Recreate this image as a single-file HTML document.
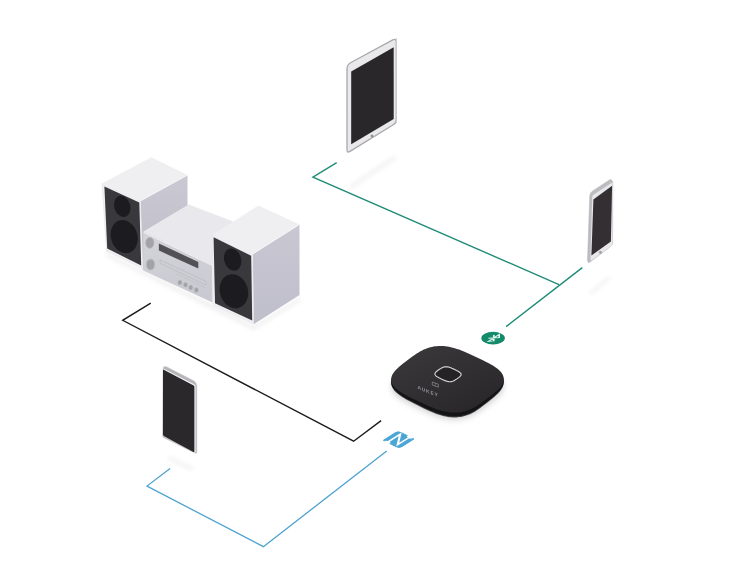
<!DOCTYPE html>
<html><head><meta charset="utf-8"><style>
html,body{margin:0;padding:0;background:#fff;width:730px;height:572px;overflow:hidden}
svg{display:block}
</style></head><body>
<svg width="730" height="572" viewBox="0 0 730 572">
<defs>
<filter id="blur3" x="-50%" y="-50%" width="200%" height="200%"><feGaussianBlur stdDeviation="3"/></filter>
<filter id="blur2" x="-50%" y="-50%" width="200%" height="200%"><feGaussianBlur stdDeviation="2"/></filter>
<filter id="blur1" x="-50%" y="-50%" width="200%" height="200%"><feGaussianBlur stdDeviation="0.8"/></filter>
<linearGradient id="hubtop" x1="0" y1="0.2" x2="0.6" y2="1"><stop offset="0" stop-color="#3a373b"/><stop offset="1" stop-color="#2a282b"/></linearGradient>
<linearGradient id="unitfront" x1="0" y1="0" x2="0" y2="1"><stop offset="0" stop-color="#d4d4db"/><stop offset="1" stop-color="#c8c8d0"/></linearGradient>
<linearGradient id="sideg" x1="0" y1="0" x2="0" y2="1"><stop offset="0" stop-color="#cac9d3"/><stop offset="1" stop-color="#bdbcc8"/></linearGradient>
<linearGradient id="sideg2" x1="0" y1="0" x2="0" y2="1"><stop offset="0" stop-color="#c8c7d2"/><stop offset="1" stop-color="#bfbecb"/></linearGradient>
</defs>
<path d="M352 186 L394 158" stroke="#f4f4f4" stroke-width="5" stroke-linecap="round" filter="url(#blur2)"/>
<path d="M591 293 L609 278" stroke="#f2f2f2" stroke-width="3.5" stroke-linecap="round" filter="url(#blur2)"/>
<path d="M170 458.5 L191 468.5" stroke="#f2f2f2" stroke-width="4" stroke-linecap="round" filter="url(#blur2)"/>
<polygon points="476.5,366.2 482.9,369.3 486.2,370.9 488.8,372.3 491.0,373.5 492.9,374.6 494.6,375.7 496.1,376.8 497.5,377.8 498.7,378.8 499.7,379.8 500.7,380.8 501.5,381.8 502.1,382.8 502.7,383.8 503.1,384.8 503.4,385.8 503.7,386.8 503.8,387.8 503.7,388.8 503.6,389.8 503.3,390.8 503.0,391.9 502.5,393.0 501.8,394.1 501.1,395.2 500.2,396.4 499.1,397.6 497.8,398.9 496.3,400.3 494.5,401.8 492.1,403.7 487.5,407.2 482.8,410.8 480.3,412.6 478.2,414.0 476.3,415.2 474.5,416.2 472.8,417.1 471.1,417.9 469.4,418.6 467.8,419.3 466.2,419.8 464.5,420.3 462.9,420.7 461.3,421.0 459.7,421.2 458.0,421.4 456.3,421.5 454.7,421.5 453.0,421.5 451.2,421.4 449.5,421.3 447.7,421.0 445.9,420.7 444.0,420.3 442.1,419.9 440.1,419.3 438.0,418.7 435.8,417.9 433.5,417.1 431.0,416.1 428.2,414.9 424.8,413.3 418.4,410.3 412.0,407.3 408.7,405.7 406.1,404.3 403.9,403.1 402.0,401.9 400.3,400.8 398.7,399.8 397.4,398.7 396.2,397.7 395.2,396.7 394.2,395.7 393.4,394.7 392.8,393.7 392.2,392.8 391.8,391.8 391.4,390.8 391.2,389.8 391.1,388.8 391.2,387.8 391.3,386.7 391.6,385.7 391.9,384.7 392.4,383.6 393.1,382.5 393.8,381.4 394.7,380.2 395.8,379.0 397.1,377.7 398.6,376.3 400.4,374.7 402.8,372.8 407.4,369.3 412.0,365.8 414.6,364.0 416.7,362.6 418.6,361.4 420.4,360.3 422.1,359.4 423.8,358.6 425.5,357.9 427.1,357.3 428.7,356.7 430.3,356.3 432.0,355.9 433.6,355.6 435.2,355.3 436.9,355.2 438.5,355.0 440.2,355.0 441.9,355.0 443.7,355.1 445.4,355.3 447.2,355.5 449.0,355.8 450.9,356.2 452.8,356.7 454.8,357.2 456.9,357.9 459.1,358.6 461.4,359.5 463.9,360.5 466.7,361.7 470.1,363.2" fill="#eeeeee" filter="url(#blur3)"/>
<polygon points="476.5,363.7 482.9,366.8 486.2,368.4 488.8,369.8 491.0,371.0 492.9,372.1 494.6,373.2 496.1,374.3 497.5,375.3 498.7,376.3 499.7,377.3 500.7,378.3 501.5,379.3 502.1,380.3 502.7,381.3 503.1,382.3 503.4,383.3 503.7,384.3 503.8,385.3 503.7,386.3 503.6,387.3 503.3,388.3 503.0,389.4 502.5,390.5 501.8,391.6 501.1,392.7 500.2,393.9 499.1,395.1 497.8,396.4 496.3,397.8 494.5,399.3 492.1,401.2 487.5,404.7 482.8,408.3 480.3,410.1 478.2,411.5 476.3,412.7 474.5,413.7 472.8,414.6 471.1,415.4 469.4,416.1 467.8,416.8 466.2,417.3 464.5,417.8 462.9,418.2 461.3,418.5 459.7,418.7 458.0,418.9 456.3,419.0 454.7,419.0 453.0,419.0 451.2,418.9 449.5,418.8 447.7,418.5 445.9,418.2 444.0,417.8 442.1,417.4 440.1,416.8 438.0,416.2 435.8,415.4 433.5,414.6 431.0,413.6 428.2,412.4 424.8,410.8 418.4,407.8 412.0,404.8 408.7,403.2 406.1,401.8 403.9,400.6 402.0,399.4 400.3,398.3 398.7,397.3 397.4,396.2 396.2,395.2 395.2,394.2 394.2,393.2 393.4,392.2 392.8,391.2 392.2,390.3 391.8,389.3 391.4,388.3 391.2,387.3 391.1,386.3 391.2,385.3 391.3,384.2 391.6,383.2 391.9,382.2 392.4,381.1 393.1,380.0 393.8,378.9 394.7,377.7 395.8,376.5 397.1,375.2 398.6,373.8 400.4,372.2 402.8,370.3 407.4,366.8 412.0,363.3 414.6,361.5 416.7,360.1 418.6,358.9 420.4,357.8 422.1,356.9 423.8,356.1 425.5,355.4 427.1,354.8 428.7,354.2 430.3,353.8 432.0,353.4 433.6,353.1 435.2,352.8 436.9,352.7 438.5,352.5 440.2,352.5 441.9,352.5 443.7,352.6 445.4,352.8 447.2,353.0 449.0,353.3 450.9,353.7 452.8,354.2 454.8,354.7 456.9,355.4 459.1,356.1 461.4,357.0 463.9,358.0 466.7,359.2 470.1,360.7" fill="#dadada" filter="url(#blur2)"/>
<polygon points="106,252 142,270 212,304 254,326 300,297 300,301 254,330 142,274 106,256" fill="#efefef" filter="url(#blur2)"/>
<polyline points="336.7,162.6 312.9,177.2 559,284.6" fill="none" stroke="#1f8c77" stroke-width="1.4"/>
<line x1="582.3" y1="267.6" x2="506.1" y2="326.6" stroke="#1f8c77" stroke-width="1.4"/>
<polyline points="150.75,303.1 122.7,320.3 353.6,441.2 381.1,420.6" fill="none" stroke="#1c1c1c" stroke-width="1.4"/>
<polyline points="170.1,468.6 147,486.1 263.4,546.7 386.7,450.9" fill="none" stroke="#4ea2d0" stroke-width="1.3"/>
<path d="M347.00,69.10 Q347.00,64.60 350.96,62.46 L392.34,40.14 Q396.30,38.00 396.30,42.50 L396.30,119.40 Q396.30,122.90 393.32,124.73 L349.98,151.37 Q347.00,153.20 347.00,149.70 Z" fill="#e9e9ec" stroke="#a9a9ad" stroke-width="1.3"/>
<path d="M396.30,38.00 Q396.30,38.00 396.30,38.00 L396.30,122.90 Q396.30,122.90 396.30,122.90 Z" fill="none" stroke="#cdcdd1" stroke-width="0.9"/>
<polygon points="351.2,71.6 393.7,47.3 393.7,119.0 351.2,144.3" fill="#2a272b"/>
<circle cx="372" cy="136" r="1.25" fill="#8c8c90" stroke="#a0a0a4" stroke-width="0.4"/>
<path d="M589.79,195.80 Q589.90,192.80 592.40,191.15 L609.46,179.88 Q610.80,179.00 611.80,180.25 L611.86,180.33 Q612.80,181.50 612.80,183.00 L612.61,243.00 Q612.60,245.00 611.00,246.20 L589.51,262.32 Q588.60,263.00 588.05,262.00 L588.05,262.00 Q587.50,261.00 587.54,259.86 Z" fill="#bcbcc1" stroke="#b0b0b5" stroke-width="0.5"/>
<path d="M592.16,197.10 Q592.20,195.60 593.45,194.78 L611.76,182.75 Q612.60,182.20 612.60,183.20 L612.50,243.00 Q612.50,245.00 610.89,246.18 L592.01,260.02 Q590.40,261.20 590.45,259.20 Z" fill="#e8e8eb"/>
<polygon points="593.4,199.4 612.1,185.7 610.9,241.6 591.4,255.6" fill="#332f33"/>
<circle cx="600.4" cy="252.4" r="1.3" fill="#9a9a9e" stroke="#b0b0b4" stroke-width="0.4"/>
<path d="M162.98,369.50 Q163.00,365.00 167.00,367.06 L193.24,380.57 Q196.80,382.40 196.80,386.40 L196.80,452.00 Q196.80,454.00 195.00,453.12 L163.95,437.86 Q162.60,437.20 162.61,435.70 Z" fill="#b4b4b9" stroke="#c4c4c8" stroke-width="0.5"/>
<path d="M163.00,369.70 Q163.00,368.20 164.33,368.89 L194.27,384.31 Q195.60,385.00 195.60,386.50 L195.60,451.50 Q195.60,453.00 194.26,452.32 L164.34,437.08 Q163.00,436.40 163.00,434.90 Z" fill="#f0f0f2"/>
<path d="M163.00,370.10 Q163.00,369.30 163.71,369.67 L193.69,385.53 Q194.40,385.90 194.40,386.70 L194.40,451.30 Q194.40,452.50 193.34,451.93 L164.06,436.17 Q163.00,435.60 163.00,434.40 Z" fill="#2b282c"/>
<polygon points="140.6,200.8 187.5,175.1 187.5,206.0 142.6,270.0" fill="url(#sideg)"/>
<polygon points="101.8,183.6 151.4,157.3 187.5,175.1 140.6,200.8" fill="#efeff1"/>
<polyline points="101.8,183.6 140.6,200.8 187.5,175.1" fill="none" stroke="#fafafb" stroke-width="0.8"/>
<polygon points="101.8,183.6 140.6,200.8 143.0,268.8 106.3,251.2" fill="#efeff1" stroke="#dcdce0" stroke-width="0.3"/>
<polygon points="104.4,186.4 139.3,202.6 141.2,265.4 107.2,248.6" fill="#39383c"/>
<ellipse cx="122.3" cy="206.4" rx="8" ry="10.8" transform="rotate(-17 122.3 206.4)" fill="#1c1b1f"/>
<ellipse cx="124.2" cy="236.6" rx="13.2" ry="16.8" transform="rotate(-17 124.2 236.6)" fill="#1c1b1f"/>
<polygon points="143.5,231.5 188.6,204.4 232.7,221.2 212.2,264.8" fill="#e9e9ed"/>
<polygon points="143.2,231.5 212.2,264.8 212.6,302.6 143.2,270.5" fill="url(#unitfront)"/>
<polyline points="143.5,232.2 212.2,265.5" fill="none" stroke="#f2f2f4" stroke-width="1"/>
<ellipse cx="149.8" cy="242.8" rx="4.3" ry="5.6" fill="#a2a2a8" stroke="#c0c0c5" stroke-width="0.8"/>
<ellipse cx="150.5" cy="264.5" rx="4.3" ry="5.6" fill="#a2a2a8" stroke="#c0c0c5" stroke-width="0.8"/>
<polygon points="158.9,243.4 198.3,262.0 198.3,268.6 158.9,250.6" fill="#525256"/>
<polygon points="160.0,259.8 206.0,281.4 206.0,285.0 160.0,263.4" fill="#cdcdd4" stroke="#b0b0b7" stroke-width="0.5"/>
<line x1="176" y1="273.6" x2="205" y2="287.6" stroke="#bcbcc2" stroke-width="0.6"/>
<ellipse cx="179.9" cy="282.4" rx="2.2" ry="2.5" fill="#a2a2a8" stroke="#c2c2c7" stroke-width="0.5"/>
<ellipse cx="185.5" cy="284.8" rx="2.2" ry="2.5" fill="#a2a2a8" stroke="#c2c2c7" stroke-width="0.5"/>
<ellipse cx="190.8" cy="287.4" rx="2.2" ry="2.5" fill="#a2a2a8" stroke="#c2c2c7" stroke-width="0.5"/>
<ellipse cx="196.4" cy="290.1" rx="2.2" ry="2.5" fill="#a2a2a8" stroke="#c2c2c7" stroke-width="0.5"/>
<polygon points="252.8,253.9 299.5,224.4 299.5,295.0 253.6,324.2" fill="url(#sideg2)"/>
<polygon points="212.4,235.0 258.4,205.4 299.5,224.4 252.8,253.9" fill="#efeff1"/>
<polyline points="212.4,235.0 252.8,253.9 299.5,224.4" fill="none" stroke="#fafafb" stroke-width="0.8"/>
<polygon points="212.4,235.0 252.8,253.9 253.6,324.2 213.4,305.4" fill="#efeff1" stroke="#dcdce0" stroke-width="0.3"/>
<polygon points="213.6,237.2 251.2,255.8 252.2,320.6 215.0,303.2" fill="#39383c"/>
<ellipse cx="232.6" cy="259.6" rx="8.4" ry="11.4" transform="rotate(-17 232.6 259.6)" fill="#1c1b1f"/>
<ellipse cx="233.9" cy="291.2" rx="14" ry="17.2" transform="rotate(-17 233.9 291.2)" fill="#1c1b1f"/>
<polygon points="476.5,360.4 482.9,363.5 486.2,365.1 488.8,366.5 491.0,367.7 492.9,368.8 494.6,369.9 496.1,371.0 497.5,372.0 498.7,373.0 499.7,374.0 500.7,375.0 501.5,376.0 502.1,377.0 502.7,378.0 503.1,379.0 503.4,380.0 503.7,381.0 503.8,382.0 503.7,383.1 503.6,384.1 503.3,385.2 503.0,386.3 502.5,387.5 501.8,388.6 501.1,389.8 500.2,391.0 499.1,392.3 497.8,393.7 496.3,395.1 494.5,396.8 492.1,398.7 487.5,402.5 482.8,406.1 480.3,408.0 478.2,409.5 476.3,410.8 474.5,411.9 472.8,412.8 471.1,413.7 469.4,414.4 467.8,415.1 466.2,415.6 464.5,416.1 462.9,416.5 461.3,416.9 459.7,417.1 458.0,417.3 456.3,417.4 454.7,417.5 453.0,417.4 451.2,417.3 449.5,417.2 447.7,416.9 445.9,416.6 444.0,416.2 442.1,415.7 440.1,415.1 438.0,414.5 435.8,413.7 433.5,412.8 431.0,411.7 428.2,410.5 424.8,408.9 418.4,405.7 412.0,402.5 408.7,400.8 406.1,399.4 403.9,398.1 402.0,396.9 400.3,395.7 398.7,394.6 397.4,393.5 396.2,392.4 395.2,391.4 394.2,390.4 393.4,389.3 392.8,388.3 392.2,387.2 391.8,386.2 391.4,385.2 391.2,384.1 391.1,383.1 391.2,382.0 391.3,380.9 391.6,379.9 391.9,378.9 392.4,377.8 393.1,376.7 393.8,375.6 394.7,374.4 395.8,373.2 397.1,371.9 398.6,370.5 400.4,368.9 402.8,367.0 407.4,363.5 412.0,360.0 414.6,358.2 416.7,356.8 418.6,355.6 420.4,354.5 422.1,353.6 423.8,352.8 425.5,352.1 427.1,351.5 428.7,350.9 430.3,350.5 432.0,350.1 433.6,349.8 435.2,349.5 436.9,349.4 438.5,349.2 440.2,349.2 441.9,349.2 443.7,349.3 445.4,349.5 447.2,349.7 449.0,350.0 450.9,350.4 452.8,350.9 454.8,351.4 456.9,352.1 459.1,352.8 461.4,353.7 463.9,354.7 466.7,355.9 470.1,357.4" fill="#4a494c"/>
<polygon points="476.5,359.6 482.9,362.7 486.2,364.3 488.8,365.7 491.0,366.9 492.9,368.0 494.6,369.1 496.1,370.2 497.5,371.2 498.7,372.2 499.7,373.2 500.7,374.2 501.5,375.2 502.1,376.2 502.7,377.2 503.1,378.2 503.4,379.2 503.7,380.2 503.8,381.2 503.7,382.3 503.6,383.3 503.3,384.4 503.0,385.5 502.5,386.6 501.8,387.8 501.1,389.0 500.2,390.2 499.1,391.4 497.8,392.8 496.3,394.3 494.5,395.9 492.1,397.9 487.5,401.6 482.8,405.2 480.3,407.1 478.2,408.6 476.3,409.8 474.5,410.9 472.8,411.9 471.1,412.7 469.4,413.5 467.8,414.1 466.2,414.7 464.5,415.2 462.9,415.6 461.3,415.9 459.7,416.2 458.0,416.3 456.3,416.5 454.7,416.5 453.0,416.5 451.2,416.4 449.5,416.2 447.7,416.0 445.9,415.6 444.0,415.2 442.1,414.7 440.1,414.2 438.0,413.5 435.8,412.7 433.5,411.8 431.0,410.8 428.2,409.5 424.8,407.9 418.4,404.8 412.0,401.6 408.7,399.9 406.1,398.5 403.9,397.2 402.0,396.0 400.3,394.8 398.7,393.7 397.4,392.7 396.2,391.6 395.2,390.5 394.2,389.5 393.4,388.5 392.8,387.4 392.2,386.4 391.8,385.4 391.4,384.3 391.2,383.3 391.1,382.3 391.2,381.2 391.3,380.1 391.6,379.1 391.9,378.1 392.4,377.0 393.1,375.9 393.8,374.8 394.7,373.6 395.8,372.4 397.1,371.1 398.6,369.7 400.4,368.1 402.8,366.2 407.4,362.7 412.0,359.2 414.6,357.4 416.7,356.0 418.6,354.8 420.4,353.7 422.1,352.8 423.8,352.0 425.5,351.3 427.1,350.7 428.7,350.1 430.3,349.7 432.0,349.3 433.6,349.0 435.2,348.7 436.9,348.6 438.5,348.4 440.2,348.4 441.9,348.4 443.7,348.5 445.4,348.7 447.2,348.9 449.0,349.2 450.9,349.6 452.8,350.1 454.8,350.6 456.9,351.3 459.1,352.0 461.4,352.9 463.9,353.9 466.7,355.1 470.1,356.6" fill="#141315"/>
<polygon points="476.5,357.2 482.9,360.3 486.2,361.9 488.8,363.3 491.0,364.5 492.9,365.6 494.6,366.7 496.1,367.8 497.5,368.8 498.7,369.8 499.7,370.8 500.7,371.8 501.5,372.8 502.1,373.8 502.7,374.8 503.1,375.8 503.4,376.8 503.7,377.8 503.8,378.8 503.7,379.8 503.6,380.8 503.3,381.8 503.0,382.9 502.5,384.0 501.8,385.1 501.1,386.2 500.2,387.4 499.1,388.6 497.8,389.9 496.3,391.3 494.5,392.8 492.1,394.7 487.5,398.2 482.8,401.8 480.3,403.6 478.2,405.0 476.3,406.2 474.5,407.2 472.8,408.1 471.1,408.9 469.4,409.6 467.8,410.3 466.2,410.8 464.5,411.3 462.9,411.7 461.3,412.0 459.7,412.2 458.0,412.4 456.3,412.5 454.7,412.5 453.0,412.5 451.2,412.4 449.5,412.3 447.7,412.0 445.9,411.7 444.0,411.3 442.1,410.9 440.1,410.3 438.0,409.7 435.8,408.9 433.5,408.1 431.0,407.1 428.2,405.9 424.8,404.3 418.4,401.3 412.0,398.3 408.7,396.7 406.1,395.3 403.9,394.1 402.0,392.9 400.3,391.8 398.7,390.8 397.4,389.7 396.2,388.7 395.2,387.7 394.2,386.7 393.4,385.7 392.8,384.7 392.2,383.8 391.8,382.8 391.4,381.8 391.2,380.8 391.1,379.8 391.2,378.8 391.3,377.7 391.6,376.7 391.9,375.7 392.4,374.6 393.1,373.5 393.8,372.4 394.7,371.2 395.8,370.0 397.1,368.7 398.6,367.3 400.4,365.7 402.8,363.8 407.4,360.3 412.0,356.8 414.6,355.0 416.7,353.6 418.6,352.4 420.4,351.3 422.1,350.4 423.8,349.6 425.5,348.9 427.1,348.3 428.7,347.7 430.3,347.3 432.0,346.9 433.6,346.6 435.2,346.3 436.9,346.2 438.5,346.0 440.2,346.0 441.9,346.0 443.7,346.1 445.4,346.3 447.2,346.5 449.0,346.8 450.9,347.2 452.8,347.7 454.8,348.2 456.9,348.9 459.1,349.6 461.4,350.5 463.9,351.5 466.7,352.7 470.1,354.2" fill="url(#hubtop)"/>
<polygon points="454.7,369.5 456.6,370.5 457.5,370.9 458.2,371.3 458.8,371.7 459.3,372.0 459.7,372.3 460.0,372.6 460.3,372.9 460.6,373.2 460.8,373.4 460.9,373.7 461.0,374.0 461.1,374.3 461.1,374.6 461.0,374.8 461.0,375.1 460.8,375.4 460.6,375.7 460.4,376.0 460.1,376.4 459.7,376.7 459.2,377.1 458.6,377.6 457.2,378.6 455.8,379.6 455.0,380.1 454.4,380.4 453.9,380.7 453.4,381.0 452.9,381.2 452.4,381.3 452.0,381.5 451.5,381.6 451.0,381.6 450.5,381.7 450.1,381.7 449.6,381.7 449.1,381.7 448.6,381.6 448.1,381.5 447.5,381.4 446.9,381.3 446.4,381.1 445.7,380.9 445.0,380.6 444.3,380.3 443.3,379.9 441.3,378.9 439.4,378.0 438.5,377.5 437.8,377.1 437.2,376.8 436.7,376.5 436.3,376.2 436.0,375.9 435.7,375.6 435.5,375.3 435.3,375.0 435.1,374.7 435.0,374.5 435.0,374.2 435.0,373.9 435.0,373.6 435.1,373.3 435.2,373.0 435.4,372.7 435.6,372.4 435.9,372.1 436.3,371.7 436.8,371.3 437.4,370.8 438.8,369.8 440.3,368.8 441.0,368.4 441.6,368.0 442.1,367.7 442.6,367.5 443.1,367.3 443.6,367.1 444.1,367.0 444.5,366.9 445.0,366.8 445.5,366.8 446.0,366.8 446.4,366.8 446.9,366.8 447.5,366.8 448.0,366.9 448.5,367.0 449.1,367.2 449.7,367.4 450.3,367.6 451.0,367.8 451.8,368.2 452.7,368.6" fill="#242225" stroke="#d2d2d3" stroke-width="1.15"/>
<polygon points="432.3,382 438.3,384.2 438.3,387.2 432.3,385" fill="none" stroke="#8e8e92" stroke-width="0.7"/>
<line x1="435.3" y1="383.1" x2="435.3" y2="386.1" stroke="#8e8e92" stroke-width="0.5"/>
<text x="0" y="0" opacity="0.99" font-family="Liberation Sans" font-size="4.9" font-weight="bold" fill="#949498" letter-spacing="0.8" transform="matrix(1 0.4 0 1 417.4 388.8)">AUKEY</text>
<ellipse cx="493.1" cy="338.1" rx="11.8" ry="6.3" fill="#138a69"/>
<g transform="matrix(0.9 0.44 -0.9 0.57 493.8 337.9)"><path d="M-3,-3 L3,3 L0,6 L0,-6 L3,-3 L-3,3" fill="none" stroke="#dff5ec" stroke-width="1.3" stroke-linejoin="miter"/></g>
<g transform="matrix(14.6 -9.3 15.9 8 383.4 440.3)">
<path d="M0,0 L0.8,0 Q1,0 1,0.2 L1,1 L0.2,1 Q0,1 0,0.8 Z" fill="#4aa6d6" stroke="#4aa6d6" stroke-width="0.05" stroke-linejoin="round"/>
<polyline points="-0.1,0.25 0.88,0.25 0.17,0.745 1.1,0.745" fill="none" stroke="#ffffff" stroke-width="0.1" stroke-linejoin="miter"/>
<path d="M0,0.25 m-0.1,0 a0.1,0.16 0 1,0 0.2,0 a0.1,0.16 0 1,0 -0.2,0 M1,0.745 m-0.1,0 a0.1,0.16 0 1,0 0.2,0 a0.1,0.16 0 1,0 -0.2,0" fill="#ffffff"/>
</g>
</svg>
</body></html>
